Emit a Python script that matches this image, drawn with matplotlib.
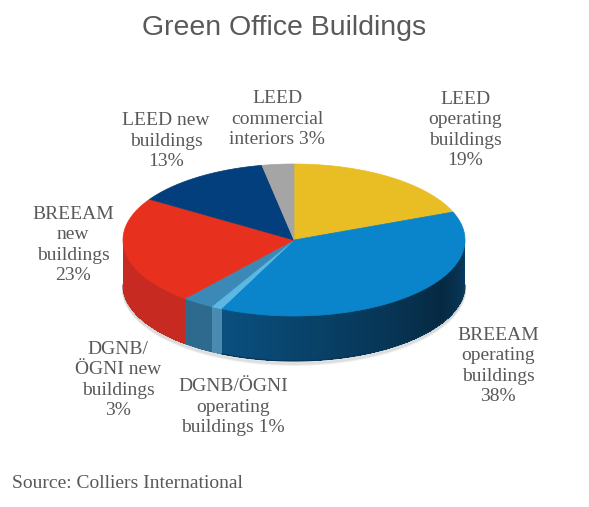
import numpy as np
import matplotlib
matplotlib.use("Agg")
import matplotlib.pyplot as plt
from matplotlib.colors import to_rgb

# data, clockwise from 12 o'clock
labels = ["LEED\noperating\nbuildings\n19%",
          "BREEAM\noperating\nbuildings\n38%",
          "DGNB/ÖGNI\noperating\nbuildings 1%",
          "DGNB/\nÖGNI new\nbuildings\n3%",
          "BREEAM\nnew\nbuildings\n23%",
          "LEED new\nbuildings\n13%",
          "LEED\ncommercial\ninteriors 3%"]
values = [19, 38, 1, 3, 23, 13, 3]
top_colors = ["#E9BE25", "#0A84CA", "#5DB7E5", "#3B89B6", "#E8301F", "#033F7C", "#A5A5A5"]
side_colors = ["#B8961C", "#0B5283", "#4B8DB5", "#2E6A8E", "#C62A20", "#022F5E", "#7F7F7F"]
label_pos = [(465, 130), (498, 366), (233, 407), (118, 380), (73, 245), (166, 141), (277, 119)]

# geometry of the tilted pie, in pixels
CX, CY, RX, RY, DEPTH = 294, 240, 171, 76, 45


def pt(t, dy=0.0):
    return CX + RX * np.cos(t), CY - RY * np.sin(t) + dy


def shade(deg):
    # side wall lighting, darkest at lower right
    d = deg % 360
    if d < 240:
        return 1.0
    if d < 330:
        return 1.0 - 0.5 * (d - 240) / 90
    return 0.5 + 0.25 * (d - 330) / 30


fig = plt.figure(figsize=(5.89, 5.07), dpi=100)
ax = fig.add_axes([0, 0, 1, 1])
ax.set_xlim(0, 589)
ax.set_ylim(507, 0)
ax.axis("off")

fracs = np.array(values) / np.sum(values)
ends = 90 - np.cumsum(fracs) * 360
starts = ends + fracs * 360

# soft shadow under the pie
for k in range(6):
    t = np.radians(np.linspace(180, 360, 120))
    xs, ys = pt(t, DEPTH + 1 + k * 0.6)
    ax.plot(xs, ys, color="#808080", alpha=0.08, lw=1.5)

# side walls (front half only)
for s, e, sc in zip(starts, ends, side_colors):
    lo, hi = e % 360, s % 360
    if hi <= lo:
        hi += 360
    a0, a1 = max(lo, 180), min(hi, 360)
    if a1 <= a0:
        continue
    steps = np.linspace(a0, a1, max(2, int(a1 - a0) + 2))
    base = np.array(to_rgb(sc))
    for d0, d1 in zip(steps[:-1], steps[1:]):
        t = np.radians([d0, d1])
        xs, ys = pt(t)
        xb, yb = pt(t[::-1], DEPTH)
        c = np.clip(base * shade((d0 + d1) / 2), 0, 1)
        ax.fill(np.r_[xs, xb], np.r_[ys, yb], color=c, lw=0, antialiased=False)
    # smooth outline of the wall piece
    t = np.radians(np.linspace(a0, a1, 60))
    xs, ys = pt(t, DEPTH)
    ax.plot(xs, ys, color=np.clip(base * shade((a0 + a1) / 2), 0, 1), lw=0.8)

# top faces
for s, e, tc in zip(starts, ends, top_colors):
    t = np.radians(np.linspace(s, e, 200))
    xs, ys = pt(t)
    ax.fill(np.r_[CX, xs], np.r_[CY, ys], color=tc, lw=0.5, ec=tc)

for lab, (x, y) in zip(labels, label_pos):
    ax.text(x, y, lab, ha="center", va="center", multialignment="center",
            fontfamily="Liberation Serif", fontsize=14, color="#595959",
            linespacing=1.28)

ax.text(284, 28, "Green Office Buildings", ha="center", va="center",
        fontfamily="Liberation Sans", fontsize=20.5, color="#595959")
ax.text(12, 484, "Source: Colliers International", ha="left", va="center",
        fontfamily="Liberation Serif", fontsize=14, color="#595959")

fig.savefig("out.png", dpi=100)
